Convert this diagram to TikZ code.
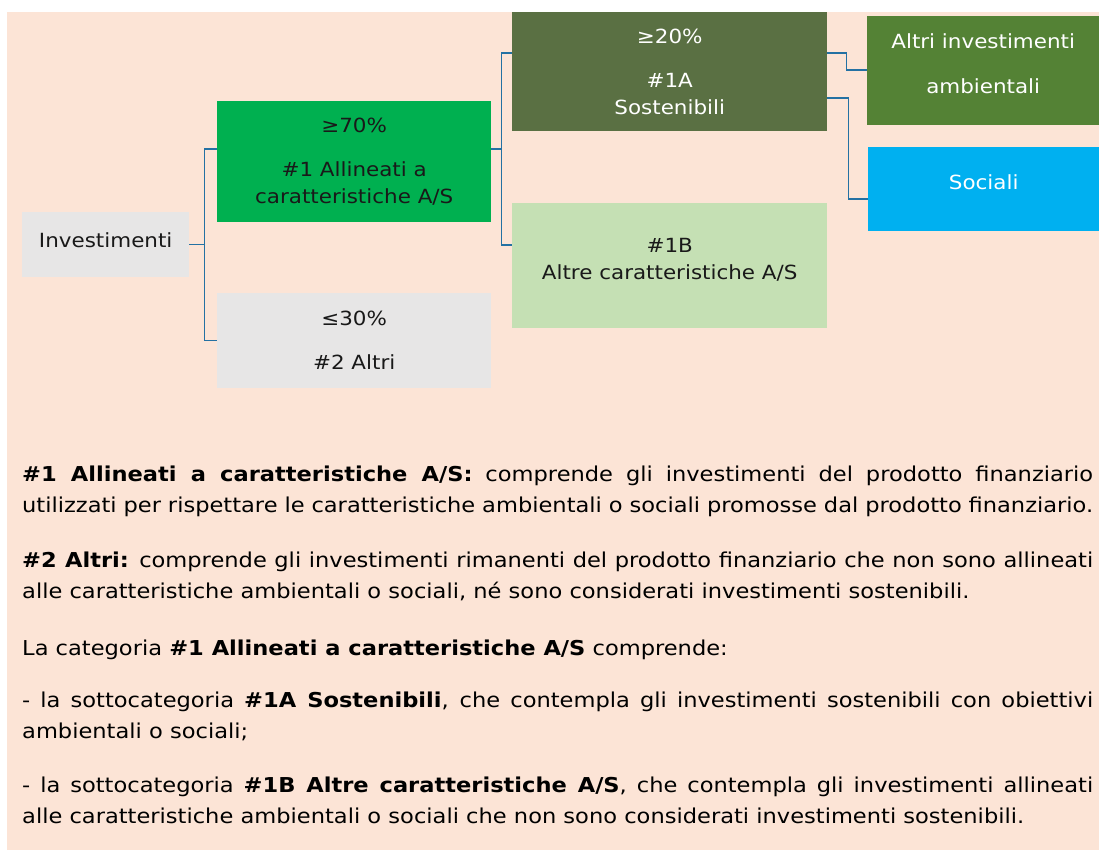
\documentclass[tikz,border=0pt]{standalone}
\usepackage{fontspec}
\setmainfont[FakeStretch=1.1]{DejaVu Sans}
\definecolor{sfondo}{HTML}{FCE4D6}
\definecolor{grigio}{HTML}{E7E6E6}
\definecolor{verde}{HTML}{00B050}
\definecolor{oliva}{HTML}{5A7043}
\definecolor{verdechiaro}{HTML}{C5E0B4}
\definecolor{verdescuro}{HTML}{548235}
\definecolor{azzurro}{HTML}{00B0F0}
\definecolor{linea}{HTML}{2471A3}
\begin{document}
\begin{tikzpicture}[x=1pt,y=-1pt,
    casella/.style={anchor=north west, inner sep=0pt, align=center, text=black!90,
      font=\fontsize{19.5}{27}\selectfont},
    ramo/.style={draw=linea, line width=1.5pt},
    testo/.style={anchor=base west, inner sep=0pt, text width=1071pt, align=justify,
      font=\fontsize{20.5}{31.5}\selectfont}]
\useasboundingbox (0,0) rectangle (1099,850);
\fill[sfondo] (7,12) rectangle (1099,850);

% caselle dello schema
\node[casella, fill=grigio, minimum width=167pt, minimum height=65pt, text depth=10pt] (inv) at (22,212) {Investimenti};
\node[casella, fill=verde, minimum width=274pt, minimum height=121pt] (all) at (217,101)
    {≥70\%\\[17pt]\#1 Allineati a\\caratteristiche A/S};
\node[casella, fill=grigio, minimum width=274pt, minimum height=95pt] (alt) at (217,293)
    {≤30\%\\[17pt]\#2 Altri};
\node[casella, fill=oliva, text=white, minimum width=315pt, minimum height=119pt] (sost) at (512,12)
    {≥20\%\\[17pt]\#1A\\Sostenibili};
\node[casella, fill=verdechiaro, minimum width=315pt, minimum height=125pt, text depth=14pt] (altre) at (512,203)
    {\#1B\\Altre caratteristiche A/S};
\node[casella, fill=verdescuro, text=white, minimum width=232pt, minimum height=109pt, text depth=14pt] (amb) at (867,16)
    {Altri investimenti\\[18pt]ambientali};
\node[casella, fill=azzurro, text=white, minimum width=231pt, minimum height=84pt, text depth=14pt] (soc) at (868,147)
    {Sociali};

% rami
\draw[ramo] (inv.east) -- ++(15,0) coordinate (snodo1);
\draw[ramo] ([yshift=-48pt]all.north west) -| (snodo1) |- (alt.west);
\draw[ramo] ([yshift=-48pt]all.north east) -- ++(10,0) coordinate (snodo2);
\draw[ramo] ([yshift=-41pt]sost.north west) -| (snodo2) |- ([yshift=-42pt]altre.north west);
\draw[ramo] ([yshift=-41pt]sost.north east) -- ++(19,0) |- ([yshift=-54pt]amb.north west);
\draw[ramo] ([yshift=-86pt]sost.north east) -- ++(21,0) |- ([yshift=-52pt]soc.north west);

% testo sotto lo schema
\node[testo] (p1) at (22,481) {\textbf{\#1 Allineati a caratteristiche A/S:} comprende gli investimenti del prodotto finanziario\linebreak
  utilizzati per rispettare le caratteristiche ambientali o sociali promosse dal prodotto finanziario.};
\node[testo] (p2) at (22,567) {\textbf{\#2 Altri:} comprende gli investimenti rimanenti del prodotto finanziario che non sono allineati\linebreak
  alle caratteristiche ambientali o sociali, né sono considerati investimenti sostenibili.};
\node[testo] (p3) at (22,655) {La categoria \textbf{\#1 Allineati a caratteristiche A/S} comprende:};
\node[testo] (p4) at (22,707) {- la sottocategoria \textbf{\#1A Sostenibili}, che contempla gli investimenti sostenibili con obiettivi\linebreak
  ambientali o sociali;};
\node[testo] (p5) at (22,792) {- la sottocategoria \textbf{\#1B Altre caratteristiche A/S}, che contempla gli investimenti allineati\linebreak
  alle caratteristiche ambientali o sociali che non sono considerati investimenti sostenibili.};
\end{tikzpicture}
\end{document}
